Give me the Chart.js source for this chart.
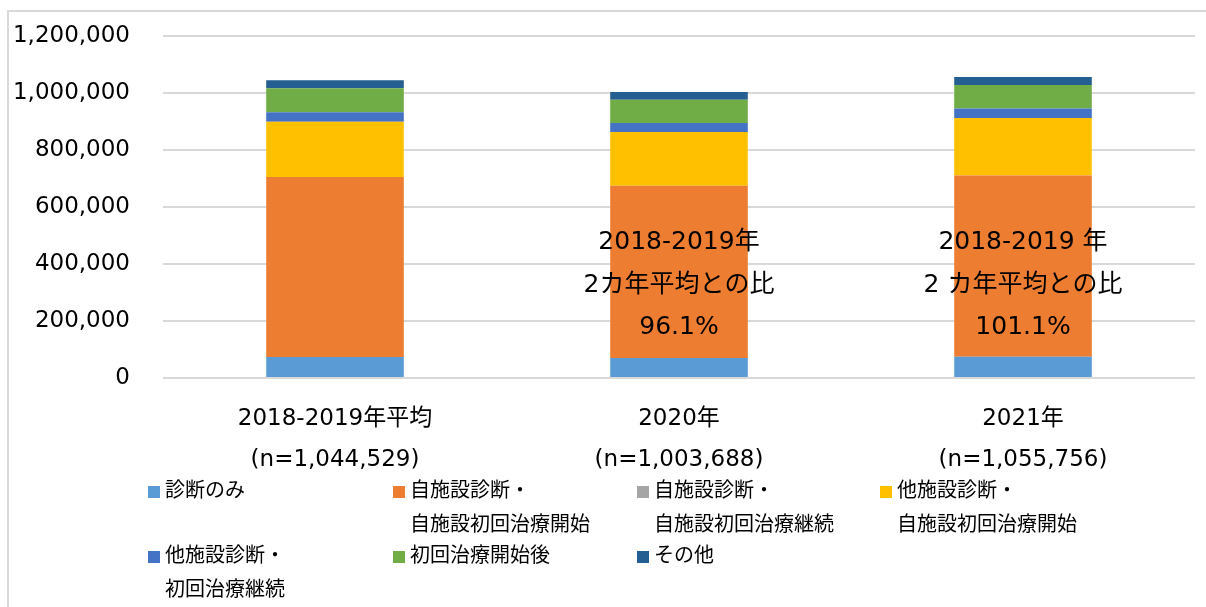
<!DOCTYPE html>
<html>
<head>
<meta charset="utf-8">
<script src="https://cdn.jsdelivr.net/npm/chart.js@4"></script>
<style>
  html, body { margin: 0; padding: 0; background: #fff; }
  #wrap { width: 1206px; height: 607px; position: relative; }
</style>
</head>
<body>
<div id="wrap"><canvas id="mycanvas" width="1206" height="607"></canvas></div>
<script>
// categories (two-line labels)
var categories = [
	['2018-2019年平均', '(n=1,044,529)'],
	['2020年', '(n=1,003,688)'],
	['2021年', '(n=1,055,756)']
];

// series values
var shindanNomi      = [74000, 70000, 74700];
var jiJiKaishi       = [631500, 604500, 636000];
var jiJiKeizoku      = [0, 0, 0];
var taJiKaishi       = [194000, 188500, 201400];
var taKeizoku        = [33000, 31700, 33700];
var kaishiGo         = [84000, 82000, 82000];
var sonota           = [28000, 27000, 28000];

var seriesNames = [
	['診断のみ'],
	['自施設診断・', '自施設初回治療開始'],
	['自施設診断・', '自施設初回治療継続'],
	['他施設診断・', '自施設初回治療開始'],
	['他施設診断・', '初回治療継続'],
	['初回治療開始後'],
	['その他']
];
var seriesColors = ['#5B9BD5', '#ED7D31', '#A5A5A5', '#FFC000', '#4472C4', '#70AD47', '#255E91'];

// tick labels
var yMax = 1200000;
var yStep = 200000;

// ratio annotations per category (null = none)
var ratioLabels = [
	null,
	['2018-2019年', '2カ年平均との比', '96.1%'],
	['2018-2019 年', '2 カ年平均との比', '101.1%']
];

var FONT = "'DejaVu Sans', 'Noto Sans CJK JP', sans-serif";

var allSeries = [shindanNomi, jiJiKaishi, jiJiKeizoku, taJiKaishi, taKeizoku, kaishiGo, sonota];
var datasets = [];
for (var i in allSeries) {
	datasets.push({
		label: seriesNames[i].join(''),
		data: allSeries[i],
		backgroundColor: seriesColors[i],
		borderWidth: 0,
		barPercentage: 1,
		categoryPercentage: 0.4
	});
}

// frame around the chart
var framePlugin = {
	id: 'frame',
	beforeDraw: function(chart) {
		var c = chart.ctx;
		c.save();
		c.fillStyle = '#fff';
		c.fillRect(0, 0, chart.width, chart.height);
		c.strokeStyle = '#d9d9d9';
		c.lineWidth = 2;
		c.strokeRect(8, 11, 1220, 620);
		c.restore();
	}
};

// ratio texts over the bars
var ratioPlugin = {
	id: 'ratio',
	afterDatasetsDraw: function(chart) {
		var c = chart.ctx;
		var xs = chart.scales.x, ys = chart.scales.y;
		c.save();
		c.font = '25px ' + FONT;
		c.fillStyle = '#000';
		c.textAlign = 'center';
		c.textBaseline = 'middle';
		for (var i = 0; i < ratioLabels.length; i++) {
			if (!ratioLabels[i]) continue;
			var x = xs.getPixelForValue(i);
			var y0 = ys.getPixelForValue(475000);
			for (var j = 0; j < ratioLabels[i].length; j++) {
				c.fillText(ratioLabels[i][j], x, y0 + j * 42.5);
			}
		}
		c.restore();
	}
};

// legend laid out in four fixed columns
var legendPlugin = {
	id: 'gridLegend',
	afterDraw: function(chart) {
		var c = chart.ctx;
		var colX = [148, 393, 637, 880];
		var rowY = [492, 557];
		c.save();
		c.font = '20px ' + FONT;
		c.textBaseline = 'middle';
		c.textAlign = 'left';
		chart.data.datasets.forEach(function(ds, k) {
			var col = k % 4, row = Math.floor(k / 4);
			var x = colX[col], y = rowY[row];
			c.fillStyle = ds.backgroundColor;
			c.fillRect(x, y - 6, 12, 12);
			c.fillStyle = '#000';
			var lines = seriesNames[k];
			for (var j = 0; j < lines.length; j++) {
				c.fillText(lines[j], x + 17, y + j * 34);
			}
		});
		c.restore();
	}
};

var ctx = document.getElementById('mycanvas');
var bargraph = new Chart(ctx, {
	type: 'bar',
	data: { labels: categories, datasets: datasets },
	plugins: [framePlugin, ratioPlugin, legendPlugin],
	options: {
		responsive: false,
		animation: false,
		layout: { padding: { top: 36, right: 11, bottom: 130, left: 0 } },
		plugins: {
			legend: { display: false },
			tooltip: { enabled: false }
		},
		scales: {
			x: {
				stacked: true,
				grid: { display: false, drawTicks: false },
				border: { display: false },
				ticks: {
					color: '#000',
					padding: 20,
					font: { family: FONT, size: 23, lineHeight: 1.8 },
					maxRotation: 0
				},
				afterFit: function(s) { s.height = 99; }
			},
			y: {
				stacked: true,
				min: 0,
				max: yMax,
				grid: { color: '#d9d9d9', lineWidth: 2, drawTicks: false },
				border: { display: false },
				ticks: {
					stepSize: yStep,
					color: '#000',
					padding: 33,
					font: { family: FONT, size: 23 },
					callback: function(v) { return v.toLocaleString('en-US'); }
				},
				afterFit: function(s) {
					s.width = 163;
					s.paddingTop = 0;
					s.paddingBottom = 0;
				}
			}
		}
	}
});
</script>
</body>
</html>
